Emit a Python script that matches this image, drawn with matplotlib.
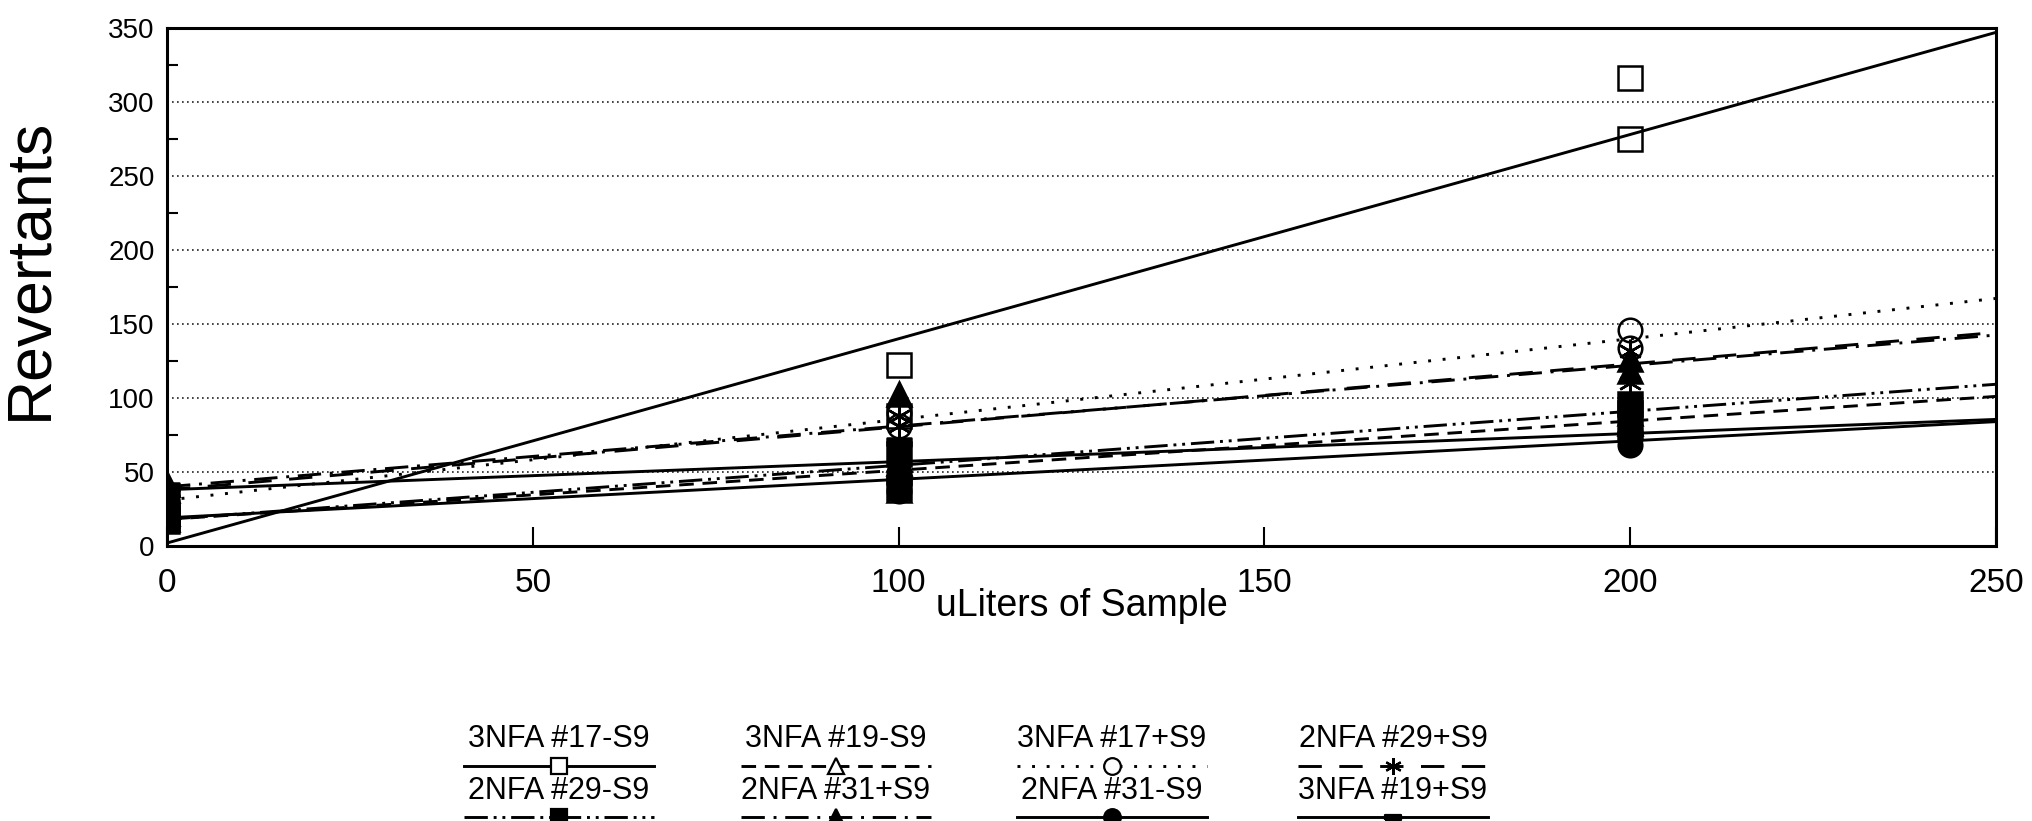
import matplotlib
matplotlib.use('Agg')
import matplotlib.pyplot as plt
import numpy as np

plt.rcParams['font.family'] = ['Liberation Sans', 'DejaVu Sans']

# doses, two plates per dose
doses = [0, 0, 100, 100, 200, 200]

labels = ['3NFA #17-S9', '3NFA #19-S9', '3NFA #17+S9', '2NFA #29+S9',
          '2NFA #29-S9', '2NFA #31+S9', '2NFA #31-S9', '3NFA #19+S9']

nfa3_17_minus = [18, 21, 122, 88, 316, 275]
nfa3_19_minus = [18, 22, 56, 38, 90, 83]
nfa3_17_plus = [28, 34, 90, 81, 146, 134]
nfa2_29_plus = [34, 38, 88, 81, 132, 110]
nfa2_29_minus = [17, 23, 62, 39, 96, 90]
nfa2_31_plus = [38, 42, 103, 59, 126, 118]
nfa2_31_minus = [18, 22, 37, 49, 76, 68]
nfa3_19_plus = [36, 40, 70, 44, 78, 74]

series = [nfa3_17_minus, nfa3_19_minus, nfa3_17_plus, nfa2_29_plus,
          nfa2_29_minus, nfa2_31_plus, nfa2_31_minus, nfa3_19_plus]

bar = [(-1, -0.3), (1, -0.3), (1, 0.3), (-1, 0.3), (-1, -0.3)]
styles = [
    {'ls': '-', 'marker': 's', 'filled': False},
    {'ls': (0, (5, 3)), 'marker': '^', 'filled': False},
    {'ls': (0, (1, 4)), 'marker': 'o', 'filled': False},
    {'ls': (0, (8, 6)), 'marker': (6, 2, 0), 'filled': True},
    {'ls': (0, (8, 2, 1, 2, 1, 2)), 'marker': 's', 'filled': True},
    {'ls': (0, (8, 3, 1, 3)), 'marker': '^', 'filled': True},
    {'ls': '-', 'marker': 'o', 'filled': True},
    {'ls': '-', 'marker': bar, 'filled': True},
]

fig = plt.figure(figsize=(20.32, 8.21), dpi=100)
ax = fig.add_axes([0.0822, 0.335, 0.9001, 0.631])

xfit = np.array([0, 250])
for y, st in zip(series, styles):
    coef = np.polyfit(doses, y, 1)
    ax.plot(xfit, np.polyval(coef, xfit), color='k', lw=2.1, ls=st['ls'], zorder=3)
    ax.plot(doses, y, ls='none', marker=st['marker'], ms=17, mew=1.8,
            mec='k', mfc='k' if st['filled'] else 'none', zorder=4)

ax.set_xlim(0, 250)
ax.set_ylim(0, 350)
ax.set_xticks([0, 50, 100, 150, 200, 250])
ax.set_yticks(np.arange(0, 351, 50))
ax.set_yticks(np.arange(25, 350, 50), minor=True)
for g in range(50, 301, 50):
    ax.axhline(g, color='#222222', lw=1.2, ls=(0, (1, 2)), zorder=1)

ax.tick_params(axis='x', direction='in', length=14, width=1.5, labelsize=24, pad=16)
ax.tick_params(axis='y', which='major', direction='in', length=0, labelsize=20, pad=9)
ax.tick_params(axis='y', which='minor', direction='in', length=8, width=1.5)
for sp in ax.spines.values():
    sp.set_linewidth(2.2)

ax.set_ylabel('Revertants', fontsize=45)
ax.yaxis.set_label_coords(-0.059, 0.535)
ax.set_xlabel('uLiters of Sample', fontsize=27)
ax.xaxis.set_label_coords(0.5, -0.115)
ax.xaxis.label.set_va('center')

# legend: label above its sample line, 4 columns x 2 rows
leg = fig.add_axes([0, 0, 1, 1], facecolor='none')
leg.set_xlim(0, 2032)
leg.set_ylim(821, 0)
leg.axis('off')
col_x = [559, 836, 1112, 1393]
text_y = [739, 791]
line_y = [766, 817]
for i, (lab, st) in enumerate(zip(labels, styles)):
    cx = col_x[i % 4]
    r = i // 4
    leg.text(cx, text_y[r], lab, ha='center', va='center', fontsize=22)
    leg.plot([cx - 95, cx + 95], [line_y[r], line_y[r]], color='k', lw=2.1, ls=st['ls'])
    leg.plot([cx], [line_y[r]], ls='none', marker=st['marker'], ms=12, mew=1.6,
             mec='k', mfc='k' if st['filled'] else 'white')

fig.savefig('out.png', dpi=100)
